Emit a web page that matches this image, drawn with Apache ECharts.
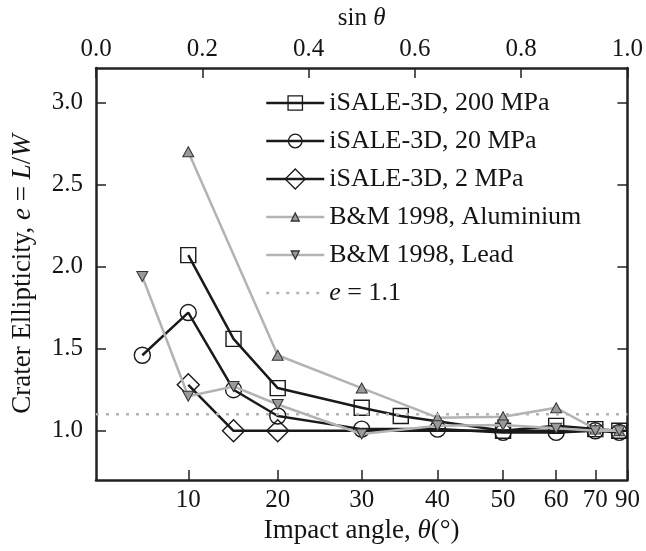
<!DOCTYPE html>
<html>
<head>
<meta charset="utf-8">
<script src="https://cdn.jsdelivr.net/npm/echarts@6/dist/echarts.min.js"></script>
<style>
  html, body { margin: 0; padding: 0; background: #ffffff; }
  #chart { width: 646px; height: 551px; }
</style>
</head>
<body>
<div id="chart"></div>
<script>
// Crater ellipticity against impact angle (degrees)
const mpa200Angles = [10, 15, 20, 30, 35, 50, 60, 70, 80];
const mpa200Values = [2.07, 1.56, 1.26, 1.14, 1.09, 1.00, 1.03, 1.01, 1.00];
const mpa20Angles = [5, 10, 15, 20, 30, 40, 50, 60, 70, 80];
const mpa20Values = [1.46, 1.72, 1.25, 1.09, 1.01, 1.01, 0.99, 0.99, 1.00, 0.99];
const mpa2Angles = [10, 15, 20, 90];
const mpa2Values = [1.28, 1.00, 1.00, 1.00];
const aluminiumAngles = [10, 20, 30, 40, 50, 60, 70, 80];
const aluminiumValues = [2.70, 1.46, 1.26, 1.08, 1.085, 1.14, 1.01, 1.00];
const leadAngles = [5, 10, 15, 20, 30, 40, 50, 60, 70, 80];
const leadValues = [1.94, 1.21, 1.27, 1.16, 0.98, 1.03, 1.035, 1.015, 1.00, 1.00];
const thresholdValue = 1.1;

// Tick positions
const angleTicks = [10, 20, 30, 40, 50, 60, 70, 90];
const sinTicks = [0.0, 0.2, 0.4, 0.6, 0.8, 1.0];
const ellipticityTicks = [1.0, 1.5, 2.0, 2.5, 3.0];

// The horizontal axis is linear in sin(theta)
const sinOf = deg => Math.sin(deg * Math.PI / 180);
const toPoints = (angles, values) => angles.map((a, i) => [sinOf(a), values[i]]);
const angleOf = s => Math.round(Math.asin(Math.min(1, s)) * 180 / Math.PI);

const FONT = 'Liberation Serif';
const INK = '#141414';
const DARK = '#1a1a1a';
const GREY = '#b3b3b3';
const FS = 25;
const TITLE_FS = 27;
const italicOf = size => ({ fontStyle: 'italic', fontFamily: FONT, fontSize: size, color: INK });
const textOf = size => ({ fontFamily: FONT, fontSize: size, color: INK });
const textBase = textOf(FS);

const frameLine = { show: true, onZero: false, lineStyle: { color: '#222', width: 2.5 } };
const innerTick = (values) => ({
  show: true, inside: true, length: 10, customValues: values,
  lineStyle: { color: '#222', width: 1.5 }
});

const hollow = { color: 'rgba(0,0,0,0)', borderColor: DARK, borderWidth: 1.4 };
const greyMarker = { color: '#9a9a9a', borderColor: '#333', borderWidth: 1 };

const baseSeries = {
  type: 'line', xAxisIndex: 0, yAxisIndex: 0,
  animation: false, silent: true, clip: true,
  emphasis: { disabled: true }
};

// the 90 degree point of the 2 MPa run only carries its line to the right edge
const mpa2Points = toPoints(mpa2Angles, mpa2Values).map(p =>
  p[0] >= 1 ? { value: p, symbol: 'none' } : { value: p });

const series = [
  Object.assign({}, baseSeries, {
    name: 'iSALE-3D, 200 MPa',
    data: toPoints(mpa200Angles, mpa200Values),
    symbol: 'rect', symbolSize: 15,
    itemStyle: hollow,
    lineStyle: { color: DARK, width: 2.5 }, z: 2
  }),
  Object.assign({}, baseSeries, {
    name: 'iSALE-3D, 20 MPa',
    data: toPoints(mpa20Angles, mpa20Values),
    symbol: 'circle', symbolSize: 16,
    itemStyle: hollow,
    lineStyle: { color: DARK, width: 2.5 }, z: 3
  }),
  Object.assign({}, baseSeries, {
    name: 'iSALE-3D, 2 MPa',
    data: mpa2Points,
    symbol: 'diamond', symbolSize: 22,
    itemStyle: hollow,
    lineStyle: { color: DARK, width: 2.5 }, z: 4
  }),
  Object.assign({}, baseSeries, {
    name: 'B&M 1998, Aluminium',
    data: toPoints(aluminiumAngles, aluminiumValues),
    symbol: 'triangle', symbolSize: [11, 10],
    itemStyle: greyMarker,
    lineStyle: { color: GREY, width: 2.5 }, z: 5
  }),
  Object.assign({}, baseSeries, {
    name: 'B&M 1998, Lead',
    data: toPoints(leadAngles, leadValues),
    symbol: 'triangle', symbolSize: [11, 10], symbolRotate: 180,
    itemStyle: greyMarker,
    lineStyle: { color: GREY, width: 2.5 }, z: 6
  }),
  Object.assign({}, baseSeries, {
    name: 'e = 1.1',
    data: [[0, thresholdValue], [1, thresholdValue]],
    symbol: 'none',
    itemStyle: { color: GREY },
    lineStyle: { color: GREY, width: 2.5, type: [3, 7] }, z: 7
  })
];

// One legend block per row so each key symbol keeps its own size
const legendRows = [
  { name: 'iSALE-3D, 200 MPa', h: 18 },
  { name: 'iSALE-3D, 20 MPa', h: 17 },
  { name: 'iSALE-3D, 2 MPa', h: 25 },
  { name: 'B&M 1998, Aluminium', h: 10 },
  { name: 'B&M 1998, Lead', h: 10 },
  { name: 'e = 1.1', h: 10, noSymbol: true, label: '{i|e} = 1.1' }
];

const legends = legendRows.map((row, i) => ({
  show: true,
  orient: 'vertical',
  left: 265,
  top: 89 + i * 38,
  padding: 0,
  itemWidth: 58,
  itemHeight: row.h,
  selectedMode: false,
  data: [row.noSymbol
    ? { name: row.name, itemStyle: { opacity: 0 } }
    : { name: row.name }],
  formatter: row.label ? (() => row.label) : (n => n),
  textStyle: Object.assign(textOf(26), { lineHeight: 28, rich: { i: italicOf(26) } }),
  lineStyle: { width: 2.5 },
  itemStyle: { borderWidth: row.noSymbol ? 0 : 1.3 }
}));

const option = {
  backgroundColor: '#ffffff',
  animation: false,
  grid: { left: 96, right: 18, top: 68, bottom: 71 },
  legend: legends,
  xAxis: [
    {
      type: 'value', position: 'bottom', min: 0, max: 1,
      axisLine: frameLine,
      axisTick: innerTick(angleTicks.map(sinOf)),
      splitLine: { show: false },
      axisLabel: Object.assign({}, textBase, {
        customValues: angleTicks.map(sinOf),
        margin: 8,
        formatter: v => String(angleOf(v))
      }),
      name: 'Impact angle, {i|θ}(°)',
      nameLocation: 'middle', nameGap: 37,
      nameTextStyle: Object.assign(textOf(TITLE_FS), { rich: { i: italicOf(TITLE_FS) } })
    },
    {
      type: 'value', position: 'top', min: 0, max: 1,
      axisLine: frameLine,
      axisTick: innerTick(sinTicks),
      splitLine: { show: false },
      axisLabel: Object.assign({}, textBase, {
        customValues: sinTicks,
        margin: 6,
        formatter: v => v.toFixed(1)
      }),
      name: 'sin {i|θ}',
      nameLocation: 'middle', nameGap: 37,
      nameTextStyle: Object.assign(textOf(FS), { rich: { i: italicOf(FS) } })
    }
  ],
  yAxis: [
    {
      type: 'value', position: 'left', min: 0.7, max: 3.21,
      axisLine: frameLine,
      axisTick: innerTick(ellipticityTicks),
      splitLine: { show: false },
      axisLabel: Object.assign({}, textBase, {
        customValues: ellipticityTicks,
        margin: 13,
        formatter: v => v.toFixed(1)
      }),
      name: 'Crater Ellipticity, {i|e} = {i|L}/{i|W}',
      nameLocation: 'middle', nameGap: 60,
      nameTextStyle: Object.assign(textOf(TITLE_FS), { rich: { i: italicOf(TITLE_FS) } })
    },
    {
      type: 'value', position: 'right', min: 0.7, max: 3.21,
      axisLine: frameLine,
      axisTick: innerTick(ellipticityTicks),
      splitLine: { show: false },
      axisLabel: { show: false }
    }
  ],
  series: series
};

const chart = echarts.init(document.getElementById('chart'), null, { renderer: 'canvas' });
chart.setOption(option);
</script>
</body>
</html>
